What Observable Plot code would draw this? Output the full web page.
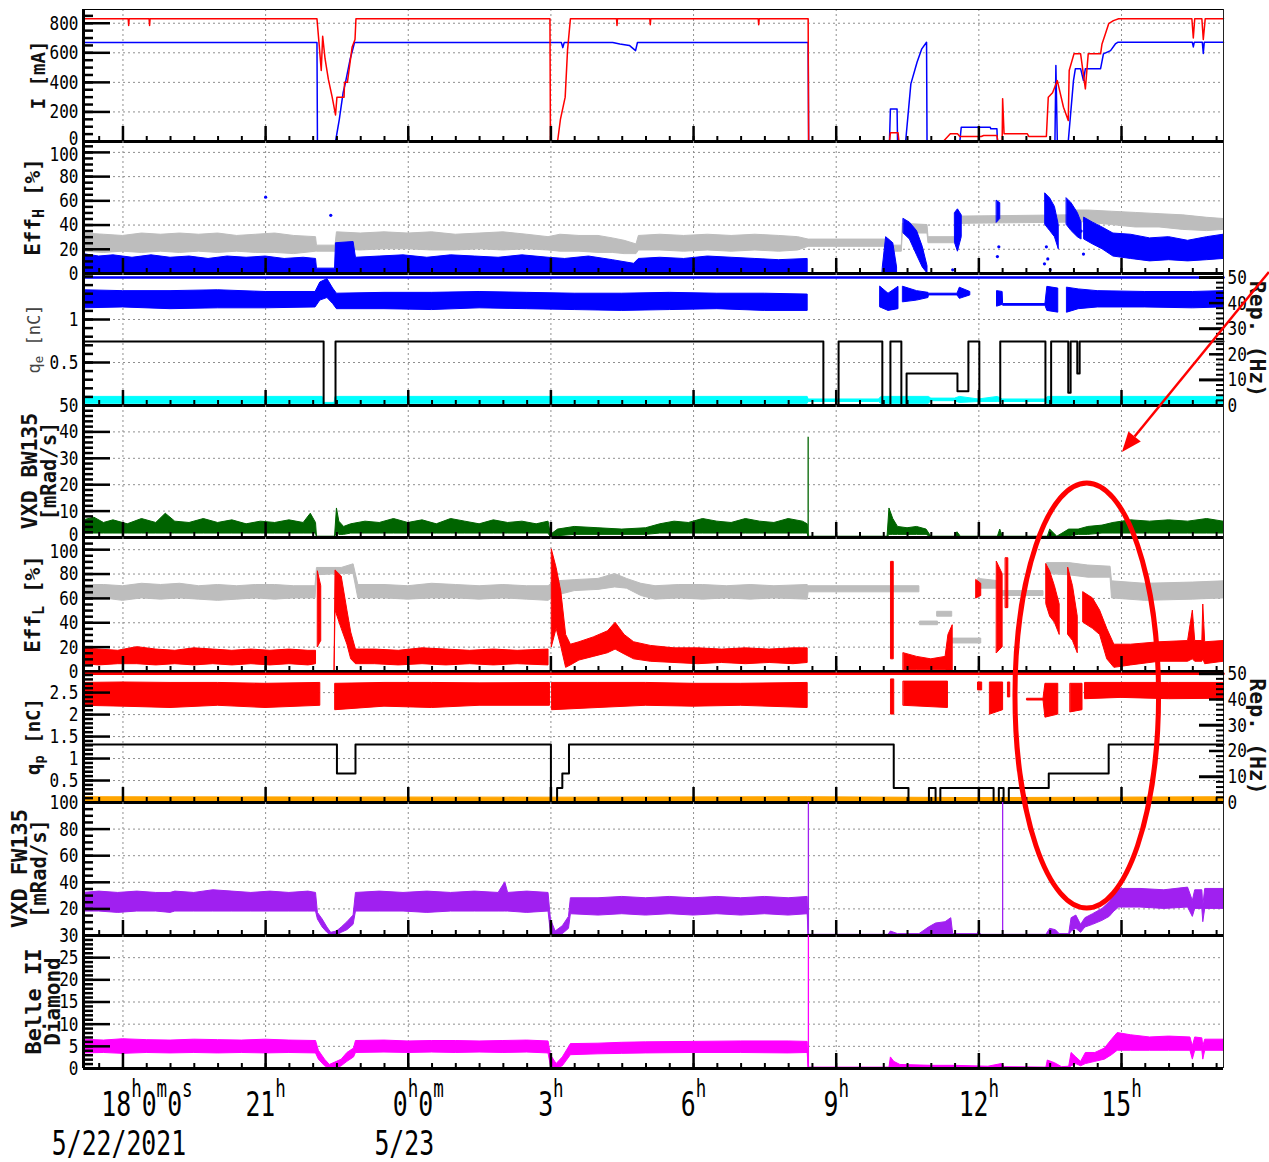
<!DOCTYPE html>
<html><head><meta charset="utf-8">
<script src="https://cdn.jsdelivr.net/npm/d3@7"></script>
<script src="https://cdn.jsdelivr.net/npm/@observablehq/plot@0.6"></script>
<style>
html,body{margin:0;padding:0;background:#fff;}
#chart{position:relative;width:1269px;height:1162px;overflow:hidden;}
#chart svg{display:block;}
#overlay{position:absolute;left:0;top:0;pointer-events:none;}
</style></head><body><div id="chart"></div>
<script>
// ---------------- time axis (hours since 5/22 00:00) ----------------
const T0 = 17.17, T1 = 41.145;
const xMajor = [18, 21, 24, 27, 30, 33, 36, 39];
const xTickText = ["18h0m0s", "21h", "0h0m", "3h", "6h", "9h", "12h", "15h"];
const dateLabels = [[18, "5/22/2021"], [24, "5/23"]];
const K_E = 0.02977; // nC per Hz on the q_e panel (right "Rep." axis)
const K_P = 0.0586;  // nC per Hz on the q_p panel
const repLabels = [0, 10, 20, 30, 40, 50];

// ---------------- Panel 1 : beam currents [mA] ----------------
const iLER = [
[17.17,830],[18.11,830],[18.12,785],[18.13,830],[18.55,830],[18.56,785],[18.57,830],
[22.08,830],[22.13,640],[22.17,480],[22.2,712],[22.25,560],[22.32,420],[22.4,300],[22.47,180],[22.5,300],[22.65,300],[22.66,400],[22.72,400],[22.82,640],[22.88,690],[22.9,830],
[26.98,830],[26.99,0],[27.14,0],[27.2,150],[27.3,300],[27.35,620],[27.41,830],
[28.38,830],[28.39,785],[28.4,830],[29.08,830],[29.09,790],[29.1,830],[31.36,830],[31.37,790],[31.38,830],
[32.41,830],[32.42,0],
[34.12,0],[34.14,60],[34.3,60],[34.32,0],
[35.25,0],[35.4,52],[35.55,52],[35.6,34],[36.05,34],[36.1,41],[36.38,41],[36.4,0],[36.49,0],[36.5,290],[36.53,52],[37.02,52],[37.05,34],[37.42,34],
[37.46,300],[37.55,330],[37.65,412],[37.78,232],[37.88,142],[37.9,480],[38.0,593],[38.14,593],[38.24,356],[38.3,593],[38.56,593],[38.59,660],[38.66,728],[38.73,797],[38.83,818],[38.94,830],
[40.48,830],[40.51,700],[40.54,830],[40.69,830],[40.72,690],[40.76,830],[41.145,830]
];
const iHER = [
[17.17,670],[22.08,670],[22.09,0],[22.47,0],[22.55,150],[22.63,330],[22.68,400],[22.78,560],[22.87,670],
[27.22,670],[27.25,635],[27.28,670],
[28.3,670],[28.45,660],[28.65,650],[28.78,615],[28.82,670],
[32.41,670],[32.42,0],
[34.12,0],[34.14,220],[34.28,220],[34.29,0],
[34.46,0],[34.57,390],[34.7,536],[34.8,627],[34.9,671],[34.91,0],
[35.6,0],[35.63,97],[36.24,97],[36.25,86],[36.38,86],[36.39,0],
[37.6,0],[37.62,514],[37.65,0],[37.88,0],[37.99,412],[38.03,493],[38.14,493],[38.2,412],[38.24,493],[38.56,493],[38.62,593],[38.77,615],[38.87,660],[38.92,671],
[40.49,671],[40.51,640],[40.53,671],[40.7,671],[40.72,595],[40.74,671],[41.145,671]
];

// ---------------- Panel 2 : Eff_H [%] (bands: t, low, high) ----------------
const effHGray = [
[17.17,18,33],[17.6,17,32],[18.0,18,31],[18.4,17,33],[18.8,18,32],[19.2,17,33],[19.6,18,32],[20.0,17,33],[20.4,18,31],[20.8,17,32],[21.2,17,33],[21.6,16,31],[22.06,18,30],
[22.08,18,23],[22.47,18,23],
[22.5,20,34],[23.0,19,33],[23.5,20,34],[24.0,20,33],[24.5,19,34],[25.0,19,32],[25.5,20,33],[26.0,19,34],[26.5,20,32],[26.95,19,30],[27.2,18,32],[27.6,18,31],[28.0,17,31],[28.3,17,29],[28.55,16,27],[28.8,16,24],[28.85,19,31],[29.3,19,32],[29.8,18,31],[30.3,19,32],[30.8,18,31],[31.3,19,32],[31.8,18,31],[32.2,19,30],[32.42,22,28],
[34.12,22,28],[34.14,18,23],[34.38,18,23],[34.4,33,41],[34.92,33,40],[34.94,25,30],[35.58,25,30],[35.6,41,47],[37.92,42,48],
[37.95,43,52],[38.3,42,52],[38.8,40,51],[39.3,38,50],[39.8,38,49],[40.3,36,48],[40.8,35,46],[41.145,36,45]
];
const effHBlue = [
[17.17,0,16],[17.5,0,14],[17.8,0,15],[18.2,0,13],[18.6,0,15],[19.0,0,13],[19.4,0,14],[19.8,0,12],[20.2,0,14],[20.6,0,13],[21.0,0,14],[21.4,0,12],[21.8,0,13],[22.06,0,12],
[22.08,0,4],[22.46,0,4],[22.48,0,25],[22.85,0,26],[22.9,0,13],
[23.4,0,14],[23.9,0,15],[24.4,0,13],[24.9,0,15],[25.4,0,14],[25.9,0,13],[26.4,0,15],[26.95,0,13],[27.3,0,12],[27.8,0,14],[28.3,0,11],[28.75,0,8],[28.85,0,12],[29.3,0,13],[29.8,0,12],[30.3,0,14],[30.8,0,13],[31.3,0,12],[31.8,0,11],[32.4,0,12],
null,
[33.98,0,5],[34.05,0,30],[34.2,0,25],[34.28,0,5],
null,
[34.42,33,45],[34.55,28,42],[34.7,15,35],[34.82,5,22],[34.92,0,6],
null,
[35.5,25,50],[35.56,18,53],[35.64,30,48],
null,
[36.38,42,60],[36.45,45,58],
null,
[37.4,40,66],[37.5,35,62],[37.6,30,55],[37.68,20,40],
null,
[37.85,40,62],[37.95,35,58],[38.08,30,50],[38.16,28,42],
null,
[38.22,28,46],[38.4,24,42],[38.6,20,38],[38.83,14,33],[39.2,12,32],[39.6,10,29],[40.0,11,30],[40.4,10,27],[40.8,11,30],[41.145,12,32]
];
const effHDots = [[21.0,63],[22.37,48],[34.5,36],[35.45,3],[36.39,14],[36.42,22],[37.38,8],[37.42,22],[37.45,12],[37.5,3],[38.15,35],[38.2,16]];

// ---------------- Panel 3 : q_e [nC] and e- rep. rate [Hz] ----------------
const qeBlue = [
[17.17,1.13,1.34],[18.0,1.14,1.33],[19.0,1.12,1.33],[20.0,1.13,1.34],[21.0,1.13,1.32],[22.05,1.14,1.32],[22.15,1.22,1.43],[22.3,1.25,1.47],[22.42,1.18,1.36],[22.5,1.12,1.3],[23.5,1.12,1.31],[24.5,1.11,1.31],[25.5,1.13,1.32],[26.5,1.12,1.31],[27.5,1.11,1.3],[28.5,1.1,1.3],[29.5,1.11,1.31],[30.5,1.12,1.3],[31.5,1.1,1.3],[32.4,1.1,1.29],
null,
[33.93,1.14,1.38],[34.1,1.1,1.3],[34.31,1.12,1.38],
null,
[34.41,1.2,1.38],[34.7,1.22,1.33],[34.94,1.25,1.31],[34.95,1.28,1.3],[35.55,1.28,1.3],[35.6,1.24,1.37],[35.82,1.28,1.32],
null,
[36.39,1.15,1.33],[36.5,1.17,1.32],[36.51,1.16,1.18],[37.4,1.16,1.18],[37.44,1.1,1.38],[37.67,1.08,1.36],
null,
[37.86,1.08,1.37],[38.1,1.12,1.35],[38.5,1.14,1.33],[39.5,1.14,1.32],[40.5,1.13,1.32],[41.145,1.14,1.33]
];
const qeCyan = [
[17.17,0.02,0.1],[22.2,0.02,0.1],[22.22,0.0,0.03],[22.45,0.0,0.03],[22.47,0.02,0.1],[32.4,0.02,0.1],[32.42,0.04,0.07],[33.9,0.04,0.07],[33.95,0.02,0.1],[34.95,0.02,0.1],[35.0,0.05,0.08],[35.5,0.05,0.08],[35.6,0.03,0.1],[36.0,0.04,0.07],[36.4,0.04,0.1],[36.5,0.04,0.07],[37.4,0.04,0.07],[37.45,0.02,0.1],[41.145,0.02,0.1]
];
const repE = [
[17.17,25],[22.22,0],[22.47,25],[32.73,0],[33.05,25],[33.97,0],[34.14,25],[34.37,0],[34.48,12.5],[35.55,5.6],[35.78,25],[36.01,0],[36.45,25],[37.4,0],[37.52,25],[37.88,5],[37.93,25],[38.07,12.5],[38.12,25],[41.145,25]
];
const repE50 = [[17.17,50],[41.145,50]];

// ---------------- Panel 4 : VXD BW135 [mRad/s] ----------------
const bw135 = [
[17.17,1.5,6.5],[17.4,1.5,7.5],[17.6,1.5,5.5],[17.8,1.5,6.5],[18.1,1.5,5],[18.4,1.5,7],[18.7,1.5,5.5],[18.9,1.5,9],[19.1,1.5,6],[19.4,1.5,5.5],[19.7,1.5,7],[20.0,1.5,5.5],[20.3,1.5,6.5],[20.6,1.5,5],[20.9,1.5,6],[21.2,1.5,5.5],[21.5,1.5,6.5],[21.8,1.5,5.5],[21.95,1.5,9],[22.06,1.5,5.5],
[22.08,0,0.3],[22.46,0,0.3],[22.5,2,11],[22.55,1,6],[22.65,1,4],[22.8,1.5,5],[23.1,1.5,6],[23.4,1.5,5.5],[23.7,1.5,7],[24.0,1.5,5.5],[24.3,1.5,6.5],[24.6,1.5,5],[24.9,1.5,7],[25.2,1.5,6],[25.5,1.5,5],[25.8,1.5,6.5],[26.1,1.5,5.5],[26.4,1.5,6],[26.7,1.5,5],[26.95,1.5,6],
[27.0,0,1],[27.15,0.5,3],[27.5,1,4],[28.0,1,3.5],[28.5,1,3],[29.0,1,3.5],[29.3,1.5,5],[29.6,1.5,6],[29.9,1.5,5.5],[30.2,1.5,7],[30.5,1.5,6],[30.8,1.5,5.5],[31.1,1.5,7],[31.4,1.5,6],[31.7,1.5,5.5],[32.0,1.5,7],[32.3,1.5,6],[32.4,1.5,5],
[32.42,0,0.3],[34.08,0,0.3],[34.12,1,11],[34.2,1,7],[34.3,1,4],[34.5,1,3.5],[34.7,1,4],[34.9,1,3],[35.0,0,0.3],[35.5,0,0.3],[35.55,0,2],[35.62,0,0.3],[36.4,0,0.3],[36.45,0,3],[36.5,0,0.3],[37.45,0,0.3],[37.5,0,3],[37.65,0,0.3],
[37.9,0.5,3],[38.1,1,3],[38.3,1,4],[38.6,1.5,4.5],[38.83,1.5,5.5],[39.2,1.5,6.5],[39.6,1.5,6],[40.0,1.5,6.5],[40.4,1.5,6],[40.8,1.5,7],[41.145,1.5,6]
];
const bwSpikes = [[32.41,38]];

// ---------------- Panel 5 : Eff_L [%] ----------------
const effLGray = [
[17.17,59,71],[17.6,60,71],[18.0,58,70],[18.4,60,72],[18.8,59,71],[19.2,60,72],[19.6,59,70],[20.0,58,71],[20.4,59,70],[20.8,60,71],[21.2,59,71],[21.6,60,70],[22.05,60,70],
[22.08,79,85],[22.6,80,85],[22.85,80,88],[22.95,60,71],[23.5,60,71],[24.0,59,70],[24.5,60,72],[25.0,60,71],[25.5,59,70],[26.0,60,71],[26.5,59,70],[26.95,58,70],
[27.1,62,74],[27.5,66,75],[28.0,67,76],[28.35,69,80],[28.6,68,76],[28.9,62,72],[29.2,59,70],[29.7,60,71],[30.2,59,71],[30.7,60,70],[31.2,59,71],[31.7,60,70],[32.4,59,71],
[32.42,65,70],[34.75,65,70],null,[34.77,38,41],[35.14,38,41],null,[35.13,45,49],[35.44,45,49],null,[35.4,23,27],[36.05,23,27],null,
[35.99,68,76],[36.45,68,74],[36.46,62,66],[37.36,62,66],null,[37.44,80,89],[37.9,79,89],[38.3,77,87],[38.77,77,86],[38.8,60,74],[39.5,58,72],[40.5,59,73],[41.145,60,74]
];
const effLRed = [
[17.17,6,19],[17.5,5,18],[17.9,6,17],[18.3,6,20],[18.7,5,18],[19.1,6,17],[19.5,5,19],[19.9,6,18],[20.3,5,17],[20.7,6,18],[21.1,5,17],[21.5,6,18],[21.9,5,17],[22.06,6,17],null,
[22.1,20,82],[22.17,25,70],null,
[22.45,0,3],[22.47,50,83],[22.6,35,78],[22.72,22,50],[22.8,10,32],[22.9,6,18],[23.3,6,18],[23.8,5,17],[24.3,6,19],[24.8,5,18],[25.3,6,17],[25.8,5,18],[26.3,6,17],[26.95,5,18],null,
[27.02,20,100],[27.12,35,85],[27.22,20,65],[27.32,3,30],[27.42,5,22],[27.6,9,24],[27.9,12,28],[28.2,15,33],[28.36,18,40],[28.55,14,30],[28.75,10,24],[29.1,8,21],[29.6,7,19],[30.1,6,19],[30.6,7,18],[31.1,6,19],[31.6,7,18],[32.1,6,19],[32.4,7,19],null,
[34.16,10,90],[34.21,10,90],null,
[34.42,1,15],[34.7,1,12],[35.0,1,10],[35.3,1,12],[35.36,0,30],[35.45,0,38],null,
[35.95,60,75],[36.05,62,72],null,
[36.38,15,90],[36.5,20,80],null,
[36.57,52,93],[36.62,52,93],null,
[37.42,55,88],[37.5,45,82],[37.6,40,70],[37.7,30,55],null,
[37.88,30,85],[37.98,25,70],[38.08,15,45],null,
[38.2,40,65],[38.4,35,60],[38.55,30,50],[38.7,10,35],[38.85,3,22],[39.2,5,22],[39.8,8,24],[40.4,8,25],[40.5,10,50],[40.55,8,25],[40.7,8,25],[40.72,10,55],[40.76,6,24],[41.145,8,25]
];

// ---------------- Panel 6 : q_p [nC] and e+ rep. rate [Hz] ----------------
const qpRed = [
[17.17,2.2,2.72],[18.0,2.18,2.73],[19.0,2.15,2.72],[20.0,2.2,2.72],[21.0,2.15,2.7],[22.15,2.2,2.72],null,
[22.47,2.1,2.7],[23.5,2.18,2.72],[24.5,2.15,2.72],[25.5,2.2,2.71],[26.98,2.2,2.72],null,
[27.03,2.1,2.72],[28.0,2.15,2.72],[29.0,2.2,2.72],[30.0,2.18,2.7],[31.0,2.2,2.7],[32.4,2.15,2.72],null,
[34.16,2.0,2.8],[34.22,2.0,2.8],null,
[34.42,2.2,2.75],[35.35,2.15,2.75],null,
[35.99,2.55,2.73],[36.07,2.55,2.73],null,
[36.24,2.0,2.73],[36.51,2.1,2.73],null,
[36.62,2.39,2.73],[36.66,2.39,2.73],null,
[37.02,2.32,2.36],[37.36,2.32,2.36],[37.4,1.93,2.7],[37.67,2.0,2.7],null,
[37.93,2.05,2.7],[38.18,2.1,2.7],null,
[38.24,2.35,2.72],[39.0,2.38,2.72],[40.0,2.35,2.72],[41.145,2.36,2.72]
];
const qpOrange = [[17.17,0.01,0.12],[27.0,0.01,0.11],[32.4,0.01,0.12],[36.0,0.0,0.1],[41.145,0.01,0.12]];
const repP = [
[17.17,22.5],[22.5,11.25],[22.89,22.5],[27.0,0],[27.13,5.6],[27.24,11.25],[27.38,22.5],[34.21,5.6],[34.52,0],[34.95,5.6],[35.09,0],[35.19,5.6],[36.31,0],[36.42,5.6],[36.52,0],[36.63,5.6],[37.47,11.25],[38.73,22.5],[41.145,22.5]
];
const repP50 = [[17.17,50],[41.145,50]];

// ---------------- Panel 7 : VXD FW135 [mRad/s] ----------------
const fw135 = [
[17.17,18,32],[17.5,18,33],[17.9,17,32],[18.3,18,33],[18.7,18,32],[19.0,17,32],[19.1,18,33],[19.5,18,32],[19.9,18,34],[20.3,18,33],[20.7,18,32],[21.1,18,33],[21.5,18,32],[21.9,18,33],[22.06,18,32],
[22.1,12,17],[22.2,6,12],[22.3,2,6],[22.38,0,2],[22.5,0,3],[22.6,2,6],[22.72,4,10],[22.85,8,15],[22.9,18,32],[23.4,18,33],[23.9,18,32],[24.4,17,33],[24.9,18,32],[25.4,18,33],[25.9,18,32],[26.04,18,40],[26.1,18,32],[26.5,17,33],[26.95,18,32],
[27.0,2,12],[27.1,0,3],[27.25,1,7],[27.38,5,14],[27.42,16,28],[28.0,15,28],[28.5,16,29],[29.0,15,28],[29.5,16,29],[30.0,15,28],[30.5,16,29],[31.0,15,28],[31.5,16,29],[32.0,15,28],[32.4,16,29],
[32.42,0,0.5],[34.1,0,0.5],[34.15,0,3],[34.3,0,1],[34.75,0,1],[34.95,0,6],[35.1,0,9],[35.3,0,10],[35.42,0,13],[35.46,0,1],[35.97,0,1],[36.0,0,3],[36.05,0,0.5],[37.42,0,0.5],[37.5,0,5],[37.62,0,4],[37.7,0,1],[37.9,0,1],
[37.95,3,13],[38.05,5,15],[38.15,2,8],[38.24,6,13],[38.4,8,16],[38.6,11,20],[38.75,14,25],[38.85,18,30],[38.95,21,35],[39.4,21,35],[39.9,20,34],[40.4,21,36],[40.5,14,26],[40.55,20,34],[40.7,20,34],[40.72,10,22],[40.76,20,35],[41.145,20,35]
];
const fwSpikes = [[32.415,100],[36.5,100]];

// ---------------- Panel 8 : Belle II Diamond ----------------
const diamond = [
[17.17,3.4,6.5],[17.6,3.5,6.3],[18.0,3.3,6.6],[18.5,3.5,6.4],[19.0,3.4,6.3],[19.5,3.5,6.5],[20.0,3.4,6.4],[20.5,3.5,6.3],[21.0,3.4,6.5],[21.5,3.5,6.3],[22.06,3.4,6.2],
[22.12,2,4],[22.25,0.5,2],[22.35,0,0.8],[22.5,0,1.5],[22.6,0.5,2],[22.72,1.5,3.5],[22.86,2.5,4.5],[22.9,3.5,6.2],[23.5,3.6,6.3],[24.0,3.5,6.1],[24.5,3.6,6.2],[25.0,3.5,6.2],[25.5,3.6,6.1],[26.0,3.5,6.2],[26.5,3.6,6.3],[26.95,3.4,6.1],
[27.0,0.5,3],[27.12,0,1],[27.25,0.5,2.5],[27.42,3,5.5],[28.0,3.2,5.6],[28.5,3.3,5.8],[29.0,3.4,5.9],[30.0,3.5,6],[31.0,3.5,6.1],[32.0,3.4,6.1],[32.4,3.5,6],
[32.42,0,0.2],[34.12,0,0.2],[34.15,0,2.5],[34.22,0,1.5],[34.35,0,0.8],[35.0,0,0.6],[35.5,0,0.6],[36.2,0,0.4],[36.48,0,1],[36.55,0,0.3],[37.42,0,0.2],[37.45,0,1.8],[37.6,0,1.2],[37.75,0,0.3],[37.9,0,0.4],
[37.95,0.5,3.5],[38.05,1,2.5],[38.15,0.5,1.5],[38.25,1,3.5],[38.45,1.5,3.5],[38.65,2,4.5],[38.8,3,6.5],[38.92,4,8],[39.2,4,7.5],[39.6,4,7],[40.0,4,7.2],[40.45,4,7],[40.5,2,5],[40.55,4,7],[40.7,4,6.8],[40.72,2,5],[40.76,4,6.5],[41.145,4,6.5]
];
const diaSpikes = [[32.415,30]];

// ---------------- annotation (data coordinates) ----------------
const ellipseSpan = {t0: 36.77, t1: 39.79, topBW: 20.5, bottomFW: 20.3};
const arrowSpec = {tailT: 42.11, headT: 39.02, headBW: 32.2};

// =====================================================================
const RED = "#ff0000", BLUE = "#0000ff", GRAY = "#bdbdbd", CYAN = "#00ffff",
      GREEN = "#006400", PURPLE = "#a020f0", MAGENTA = "#ff00ff", ORANGE = "#ffa500";
const FONT = "DejaVu Sans Mono";
const xMinor = d3.range(35, 83).map(i => i / 2);

const toBand = rows => rows.map(r => r ? {t: r[0], lo: r[1], hi: r[2]} : {t: NaN, lo: NaN, hi: NaN});
const toPts = rows => rows.map(r => ({t: r[0], v: r[1]}));
const band = (rows, color, k = 1) => Plot.areaY(toBand(rows), {
  x: "t", y1: d => d.lo * k, y2: d => d.hi * k, fill: color, stroke: color, strokeWidth: 1, curve: "linear"});
const line = (rows, color, k = 1, curve = "linear", sw = 1.5) => Plot.line(toPts(rows), {
  x: "t", y: d => d.v * k, stroke: color, strokeWidth: sw, curve});
const spikes = (rows, color) => Plot.ruleX(rows, {x: d => d[0], y1: 0, y2: d => d[1], stroke: color, strokeWidth: 1.3});

const GRID = {stroke: "#8f8f8f", strokeOpacity: 1, strokeWidth: 1, strokeDasharray: "2,3"};

function makePanel(cfg) {
  const {height, marginTop = 0, marginBottom = 0, domain, major, minor, labels, grid, marks, rep} = cfg;
  const m = [
    Plot.gridX(xMajor, GRID),
    Plot.gridY(grid, GRID),
    ...marks,
    Plot.axisY(minor, {anchor: "left", tickSize: -10, strokeWidth: 2.5, fill: "none", label: null}),
    Plot.axisY(major, {anchor: "left", tickSize: -27, strokeWidth: 2.5, fill: "none", label: null}),
    Plot.axisY(labels, {anchor: "left", tickSize: 0, tickPadding: 5, tickFormat: d => String(d), label: null}),
    Plot.axisX(xMinor, {anchor: "bottom", tickSize: -5, strokeWidth: 2, fill: "none", label: null}),
    Plot.axisX(xMajor, {anchor: "bottom", tickSize: -15, strokeWidth: 2.5, fill: "none", label: null}),
    Plot.ruleY([domain[0]], {stroke: "black", strokeWidth: 3}),
    Plot.ruleX([T0], {stroke: "black", strokeWidth: 3}),
    Plot.ruleX([T1], {stroke: "#222", strokeWidth: 1})
  ];
  if (rep) {
    const k = rep;
    m.push(
      Plot.axisY(d3.range(0, 51, 2).map(h => h * k), {anchor: "right", tickSize: -8, strokeWidth: 2, fill: "none", label: null}),
      Plot.axisY([20, 40].map(h => h * k), {anchor: "right", tickSize: -15, strokeWidth: 2.5, fill: "none", label: null}),
      Plot.axisY([10, 30, 50].map(h => h * k), {anchor: "right", tickSize: -25, strokeWidth: 3, fill: "none", label: null}),
      Plot.axisY(repLabels.map(h => h * k), {anchor: "right", tickSize: 0, tickPadding: 4, tickFormat: v => String(Math.round(v / k)), label: null})
    );
  }
  if (cfg.top) m.push(Plot.ruleY([domain[1]], {stroke: "black", strokeWidth: 1}));
  if (cfg.extra) m.push(...cfg.extra);
  return Plot.plot({
    width: 1269, height, marginLeft: 83, marginRight: 46, marginTop, marginBottom,
    x: {domain: [T0, T1]}, y: {domain},
    style: {background: "none", overflow: "visible", fontFamily: FONT, fontSize: "20px", color: "black"},
    marks: m
  });
}

const range = (a, b, s) => d3.range(Math.round(a / s), Math.round(b / s) + 1).map(i => +(i * s).toFixed(3));

const panels = [
  {height: 141, marginTop: 9, top: true, domain: [0, 893], major: [0,200,400,600,800], minor: range(0,850,50),
   labels: [0,200,400,600,800], grid: [200,400,600,800],
   marks: [line(iHER, BLUE), line(iLER, RED)]},
  {height: 132, domain: [0, 109], major: [0,20,40,60,80,100], minor: range(0,105,5),
   labels: [0,20,40,60,80,100], grid: [20,40,60,80,100],
   marks: [band(effHGray, GRAY), band(effHBlue, BLUE),
           Plot.dot(effHDots, {x: d => d[0], y: d => d[1], r: 1.6, fill: BLUE})]},
  {height: 132, domain: [0, 1.535], major: [0.5, 1], minor: range(0,1.5,0.1),
   labels: [0.5, 1], grid: [0.5, 1], rep: K_E,
   marks: [band(qeCyan, CYAN), band(qeBlue, BLUE), line(repE, "black", K_E, "step-after", 2), line(repE50, BLUE, K_E, "linear", 2.5)]},
  {height: 132, domain: [0, 50], major: [0,10,20,30,40,50], minor: range(0,50,2),
   labels: [0,10,20,30,40,50], grid: [10,20,30,40],
   marks: [band(bw135, GREEN), spikes(bwSpikes, GREEN)]},
  {height: 134, domain: [0, 110], major: [0,20,40,60,80,100], minor: range(0,105,5),
   labels: [0,20,40,60,80,100], grid: [20,40,60,80,100],
   marks: [band(effLGray, GRAY), band(effLRed, RED)]},
  {height: 131, domain: [0, 2.98], major: [0.5,1,1.5,2,2.5], minor: range(0,2.9,0.1),
   labels: [0.5,1,1.5,2,2.5], grid: [0.5,1,1.5,2,2.5], rep: K_P,
   marks: [band(qpOrange, ORANGE), band(qpRed, RED), line(repP, "black", K_P, "step-after", 2), line(repP50, RED, K_P, "linear", 2.5)]},
  {height: 133, domain: [0, 100], major: [0,20,40,60,80,100], minor: range(0,100,5),
   labels: [20,40,60,80,100], grid: [20,40,60,80],
   marks: [band(fw135, PURPLE), spikes(fwSpikes, PURPLE)]},
  {height: 227, marginBottom: 94, domain: [0, 30], major: [0,5,10,15,20,25,30], minor: range(0,30,1),
   labels: [0,5,10,15,20,25,30], grid: [5,10,15,20,25],
   marks: [band(diamond, MAGENTA), spikes(diaSpikes, MAGENTA)],
   extra: [
     Plot.axisX(xMajor, {anchor: "bottom", tickSize: 0, tickPadding: 23, fontSize: 34,
       tickFormat: d => xTickText[xMajor.indexOf(d)], label: null}),
     Plot.text(dateLabels, {x: d => d[0], text: d => d[1], frameAnchor: "bottom", lineAnchor: "top",
       dy: 62, dx: -4, fontSize: 34})
   ]}
];

const container = document.getElementById("chart");
const svgs = panels.map(cfg => { const s = makePanel(cfg); container.appendChild(s); return s; });

// ---- condensed tick lettering (narrow mono face) ----
function condense(el, sel, sx, dxFn, dyFn) {
  d3.select(el).selectAll(sel).each(function() {
    const tr = this.getAttribute("transform") || "";
    const dx = dxFn ? dxFn(this) : 0;
    const dy = dyFn ? dyFn(this) : 0;
    this.setAttribute("transform", `${tr} translate(${dx},${dy}) scale(${sx},1)`);
  });
}
// panel-edge labels nudged apart slightly (the original's labels just touch)
svgs.forEach((s, i) => condense(s, 'g[aria-label="y-axis tick label"] text', 0.8, null, el => {
  const t = el.textContent;
  if (t === "0" && (i === 0 || i === 3)) return -3;
  if (t === "100" && (i === 1 || i === 4)) return 2;
  return 0;
}));

const last = svgs[svgs.length - 1];
const NS = "http://www.w3.org/2000/svg";
d3.select(last).selectAll('g[aria-label="x-axis tick label"] text').each(function() {
  const s = this.textContent;
  const parts = s.match(/\d+|[a-z]+/g) || [s];
  this.textContent = "";
  let up = false;
  for (const p of parts) {
    const ts = document.createElementNS(NS, "tspan");
    ts.textContent = p;
    if (/[a-z]/.test(p)) {
      ts.style.fontSize = "24px";
      if (!up) { ts.setAttribute("dy", -19); up = true; }
    } else if (up) { ts.setAttribute("dy", 19); up = false; }
    this.appendChild(ts);
  }
});
condense(last, 'g[aria-label="x-axis tick label"] text', 0.73, el => {
  const t = el.textContent;
  return t === "18h0m0s" ? 24 : t === "0h0m" ? 10 : 0;
});
condense(last, 'g[aria-label="text"] text', 0.73);

// ---- overlay layer: rotated axis titles and red annotations ----
const cTop = container.getBoundingClientRect().top;
const topOf = s => s.getBoundingClientRect().top - cTop;
const X = v => svgs[0].scale("x").apply(v);
const Y = (i, v) => topOf(svgs[i]) + svgs[i].scale("y").apply(v);
const ov = d3.select(container).append("svg").attr("id", "overlay")
  .attr("width", 1269).attr("height", 1162);

function addTitle(i, x, parts, {size = 19, weight = "bold", fill = "#111", rotate = -90} = {}) {
  const d = panels[i].domain;
  const y = (Y(i, d[0]) + Y(i, d[1])) / 2;
  const t = ov.append("text")
    .attr("transform", `translate(${x},${y}) rotate(${rotate})`)
    .attr("text-anchor", "middle").attr("dominant-baseline", "central")
    .attr("font-family", FONT).attr("font-size", size).attr("font-weight", weight).attr("fill", fill)
    .style("font-size", size + "px", "important");
  if (typeof parts === "string") { t.text(parts); return; }
  let down = false;
  for (const p of parts) {
    const sub = typeof p !== "string";
    const fs = sub ? size * 0.72 : size;
    const s = t.append("tspan").text(sub ? p.t : p)
      .attr("font-size", fs).style("font-size", fs + "px", "important");
    if (sub) { s.attr("dy", size * 0.3); down = true; }
    else if (down) { s.attr("dy", -size * 0.3); down = false; }
  }
}
addTitle(0, 38, "I [mA]", {size: 19});
addTitle(1, 33, ["Eff", {t: "H"}, " [%]"], {size: 21});
addTitle(2, 34, ["q", {t: "e"}, " [nC]"], {size: 17, weight: "normal", fill: "#444"});
addTitle(2, 1257, "Rep. (Hz)", {size: 21.5, rotate: 90});
addTitle(3, 29, "VXD BW135", {size: 21.5});
addTitle(3, 49, "[mRad/s]", {size: 20.5});
addTitle(4, 33, ["Eff", {t: "L"}, " [%]"], {size: 21});
addTitle(5, 33, ["q", {t: "p"}, " [nC]"], {size: 19});
addTitle(5, 1257, "Rep. (Hz)", {size: 21.5, rotate: 90});
addTitle(6, 19, "VXD FW135", {size: 22});
addTitle(6, 39, "[mRad/s]", {size: 20.5});
addTitle(7, 33, "Belle II", {size: 22});
addTitle(7, 53, "Diamond", {size: 21});

const ex0 = X(ellipseSpan.t0), ex1 = X(ellipseSpan.t1);
const ey0 = Y(3, ellipseSpan.topBW), ey1 = Y(6, ellipseSpan.bottomFW);
ov.append("ellipse").attr("cx", (ex0 + ex1) / 2).attr("cy", (ey0 + ey1) / 2)
  .attr("rx", (ex1 - ex0) / 2).attr("ry", (ey1 - ey0) / 2)
  .attr("fill", "none").attr("stroke", RED).attr("stroke-width", 5);
const hx = X(arrowSpec.headT), hy = Y(3, arrowSpec.headBW);
const tx = X(arrowSpec.tailT), ty = topOf(svgs[2]) - 1;
const L = Math.hypot(hx - tx, hy - ty), ux = (hx - tx) / L, uy = (hy - ty) / L;
const bx = hx - ux * 20, by = hy - uy * 20;
ov.append("line").attr("x1", tx).attr("y1", ty).attr("x2", bx).attr("y2", by)
  .attr("stroke", RED).attr("stroke-width", 2.5);
ov.append("polygon").attr("fill", RED)
  .attr("points", [[hx, hy], [bx - uy * 8, by + ux * 8], [bx + uy * 8, by - ux * 8]].map(p => p.join(",")).join(" "));
</script></body></html>
